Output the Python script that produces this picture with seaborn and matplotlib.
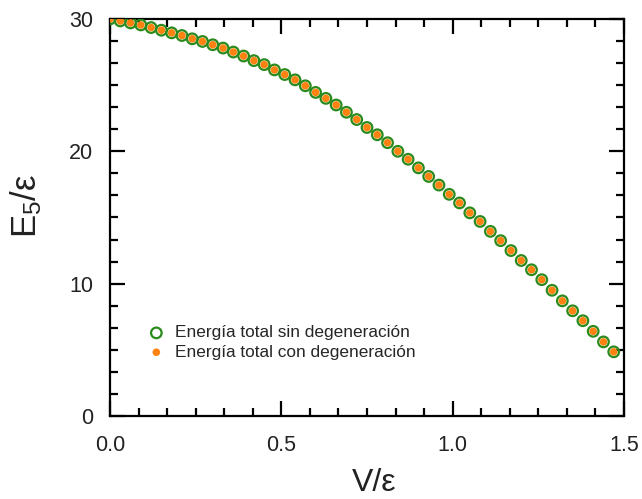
import numpy as np
import pandas as pd
import matplotlib
matplotlib.use("Agg")
import matplotlib.pyplot as plt
from matplotlib.ticker import MultipleLocator
import seaborn as sns

# Data
v_eps = [0.00, 0.03, 0.06, 0.09, 0.12, 0.15, 0.18, 0.21, 0.24, 0.27,
         0.30, 0.33, 0.36, 0.39, 0.42, 0.45, 0.48, 0.51, 0.54, 0.57,
         0.60, 0.63, 0.66, 0.69, 0.72, 0.75, 0.78, 0.81, 0.84, 0.87,
         0.90, 0.93, 0.96, 0.99, 1.02, 1.05, 1.08, 1.11, 1.14, 1.17,
         1.20, 1.23, 1.26, 1.29, 1.32, 1.35, 1.38, 1.41, 1.44, 1.47]
e5_sin = [30.00, 29.85, 29.70, 29.55, 29.35, 29.15, 28.95, 28.75, 28.50, 28.30,
          28.05, 27.80, 27.50, 27.20, 26.85, 26.55, 26.15, 25.80, 25.40, 24.95,
          24.45, 24.00, 23.50, 22.95, 22.40, 21.80, 21.25, 20.65, 20.00, 19.40,
          18.75, 18.10, 17.45, 16.75, 16.10, 15.35, 14.70, 13.95, 13.25, 12.50,
          11.75, 11.05, 10.30, 9.50, 8.70, 7.95, 7.20, 6.40, 5.60, 4.85]
e5_con = list(e5_sin)

label_sin = "Energía total sin degeneración"
label_con = "Energía total con degeneración"
x_ticks = [0.0, 0.5, 1.0, 1.5]
y_ticks = [0, 10, 20, 30]

df = pd.DataFrame({"V": v_eps, "sin": e5_sin, "con": e5_con})

sns.set_style("ticks")
plt.rcParams["font.family"] = ["Liberation Sans", "DejaVu Sans"]
plt.rcParams["mathtext.fontset"] = "custom"
plt.rcParams["mathtext.rm"] = "Liberation Sans"
plt.rcParams["mathtext.it"] = "Liberation Sans"

fig = plt.figure(figsize=(6.42, 4.99), dpi=100)
ax = fig.add_axes([0.1713, 0.1663, 0.8007, 0.7957])

green = "#2a8a1c"
orange = "#fd8210"

sns.scatterplot(data=df, x="V", y="sin", ax=ax, marker="o", s=58,
                facecolors="none", edgecolors=green, linewidths=1.6,
                label=label_sin, zorder=3)
sns.scatterplot(data=df, x="V", y="con", ax=ax, marker="o", s=30,
                color=orange, edgecolor="none", linewidth=0,
                label=label_con, zorder=4)

ax.set_xlim(0, 1.5)
ax.set_ylim(0, 30)
ax.set_xticks(x_ticks)
ax.set_xticklabels([f"{t:.1f}" for t in x_ticks])
ax.set_yticks(y_ticks)
ax.set_yticklabels([str(t) for t in y_ticks])
ax.xaxis.set_minor_locator(MultipleLocator(0.5 / 6))
ax.yaxis.set_minor_locator(MultipleLocator(10 / 6))

for side in ["left", "right", "top", "bottom"]:
    ax.spines[side].set_visible(True)
    ax.spines[side].set_linewidth(1.6)
    ax.spines[side].set_color("black")

ax.tick_params(which="both", direction="in", top=True, right=True,
               width=1.6, color="black", labelsize=15.5, labelcolor="#222222")
ax.tick_params(which="major", length=10.5)
ax.tick_params(which="minor", length=5.5)
ax.tick_params(axis="y", pad=12)
ax.tick_params(axis="x", pad=14)

ax.set_xlabel("V/ε", fontsize=23, color="#222222")
ax.set_ylabel("E$_5$/ε", fontsize=25, color="#222222")
ax.xaxis.set_label_coords(0.514, -0.13)
ax.yaxis.set_label_coords(-0.128, 0.53)

ax.legend(loc="center left", bbox_to_anchor=(0.05, 0.185), frameon=False,
          fontsize=12.4, handletextpad=0.6, labelspacing=0.25, borderpad=0.2,
          handlelength=1.0)

fig.savefig("out.png", dpi=100)
